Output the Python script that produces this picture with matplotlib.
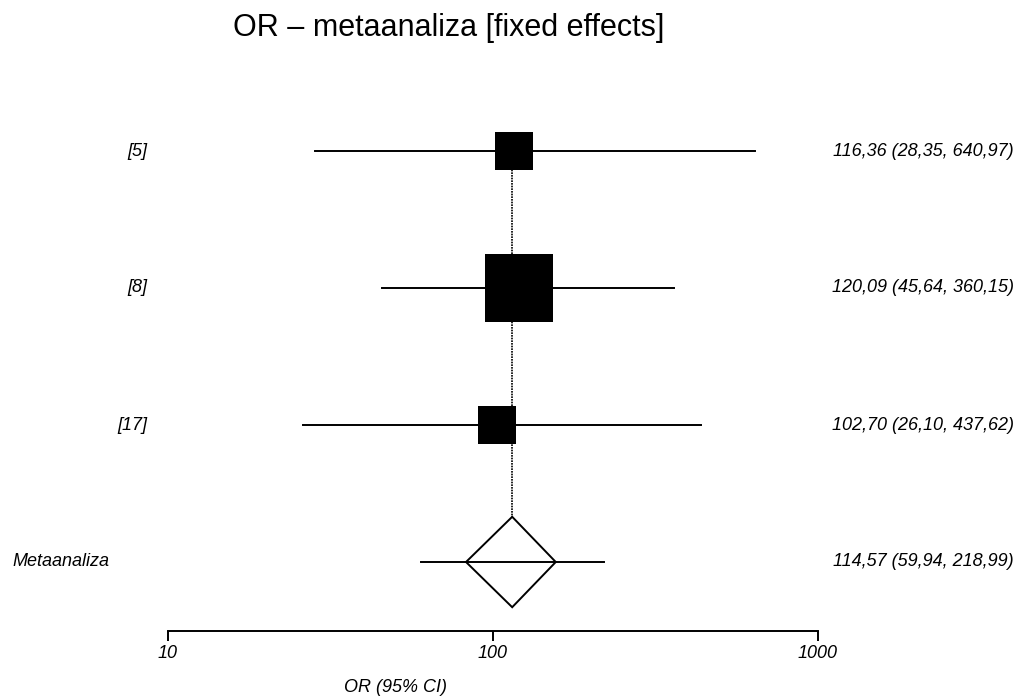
import matplotlib
matplotlib.use("Agg")
import matplotlib.pyplot as plt
from matplotlib.patches import Polygon
import matplotlib.transforms as mtransforms

plt.rcParams['font.family'] = ['Liberation Sans', 'DejaVu Sans']

# dane z wykresu
studies = ["[5]", "[8]", "[17]"]
or_est = [116.36, 120.09, 102.70]
ci_low = [28.35, 45.64, 26.10]
ci_high = [640.97, 360.15, 437.62]
meta_label = "Metaanaliza"
meta_est = 114.57
meta_low = 59.94
meta_high = 218.99
diamond_low = 82.6
diamond_high = 156.0
xticks = [10, 100, 1000]
xtick_labels = ["10", "100", "1000"]

box_px = [38, 68, 38]  # bok kwadratu w pikselach

W, H = 1018, 698
fig = plt.figure(figsize=(W / 100, H / 100), dpi=100)
ax = fig.add_axes([168 / W, 1 - 630.5 / H, 650 / W, (630.5 - 82.5) / H])
ax.set_xscale("log")
ax.set_xlim(10, 1000)
ax.set_ylim(3.5, -0.5)

rows = list(range(len(studies)))
meta_row = len(studies)

# linia pionowa dla wyniku metaanalizy
ax.plot([meta_est, meta_est], [0, meta_row - 0.33], color="black",
        lw=1.2, ls=(0, (1, 0.6)), zorder=1)

for i in rows:
    ax.plot([ci_low[i], ci_high[i]], [i, i], color="black", lw=1.4, zorder=2)
    s = (box_px[i] * 0.72) ** 2
    ax.scatter([or_est[i]], [i], marker="s", s=s, color="black",
               edgecolors="none", zorder=3)

ax.plot([meta_low, meta_high], [meta_row, meta_row], color="black", lw=1.4, zorder=2)
dia = Polygon([[diamond_low, meta_row], [meta_est, meta_row - 0.33],
               [diamond_high, meta_row], [meta_est, meta_row + 0.33]],
              closed=True, facecolor="none", edgecolor="black", lw=1.4, zorder=3)
ax.add_patch(dia)

for sp in ["top", "right", "left"]:
    ax.spines[sp].set_visible(False)
ax.spines["bottom"].set_linewidth(1.4)
ax.set_yticks([])
ax.set_xticks(xticks)
ax.set_xticklabels(xtick_labels, fontstyle="italic", fontsize=13)
ax.xaxis.set_minor_locator(matplotlib.ticker.NullLocator())
ax.tick_params(axis="x", direction="out", length=7.5, width=1.4, pad=3)

trans = mtransforms.blended_transform_factory(fig.transFigure, ax.transData)
for i in rows:
    ax.text(147 / W, i, studies[i], transform=trans, ha="right", va="center",
            fontsize=13, fontstyle="italic")
    txt = f"{or_est[i]:.2f} ({ci_low[i]:.2f}, {ci_high[i]:.2f})".replace(".", ",")
    ax.text(1014 / W, i, txt, transform=trans, ha="right", va="center",
            fontsize=13, fontstyle="italic")
ax.text(12 / W, meta_row, meta_label, transform=trans, ha="left", va="center",
        fontsize=13, fontstyle="italic")
txt = f"{meta_est:.2f} ({meta_low:.2f}, {meta_high:.2f})".replace(".", ",")
ax.text(1014 / W, meta_row, txt, transform=trans, ha="right", va="center",
        fontsize=13, fontstyle="italic")

fig.text(395 / W, 1 - 688 / H, "OR (95% CI)", ha="center", va="center",
         fontsize=13, fontstyle="italic")
fig.text(449 / W, 1 - 28 / H, "OR – metaanaliza [fixed effects]", ha="center",
         va="center", fontsize=22)

fig.savefig("out.png", dpi=100)
